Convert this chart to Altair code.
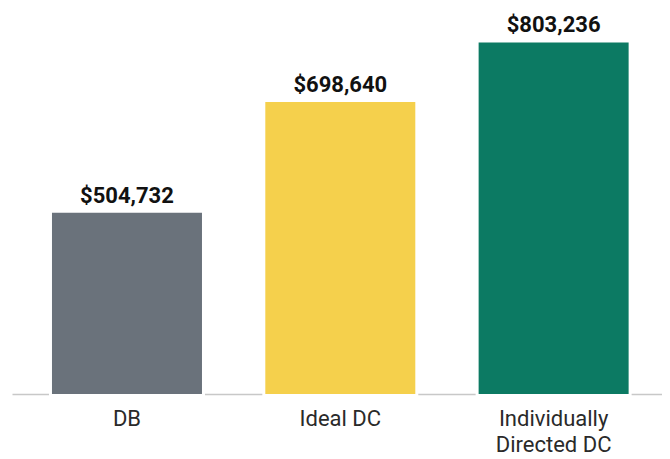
import altair as alt
import pandas as pd

categories = ["DB", "Ideal DC", "Individually|Directed DC"]
values = [504732, 698640, 803236]
colors = ["#6a727b", "#f5d04c", "#0c7a63"]

df = pd.DataFrame({"cat": categories, "value": values, "color": colors})

H = 384
W = 650
ydom = [187000, 860000]

x = alt.X(
    "cat:N",
    sort=categories,
    scale=alt.Scale(paddingInner=0.297, paddingOuter=0.172, align=0.545),
    axis=alt.Axis(
        title=None,
        labelAngle=0,
        ticks=False,
        domainColor="#c8c8c8",
        domainWidth=1.5,
        labelFont="Roboto",
        labelFontSize=22,
        labelColor="#2a2a2a",
        labelPadding=14,
        labelLineHeight=26,
        labelExpr="split(datum.label, '|')",
    ),
)
y = alt.Y("value:Q", scale=alt.Scale(domain=ydom, zero=False), axis=None)

base = alt.Chart(df)

white = base.mark_bar(color="white", size=156, y2Offset=3).encode(
    x=x, y=y, y2=alt.datum(ydom[0])
)
bars = base.mark_bar(size=150).encode(
    x=x,
    y=y,
    y2=alt.datum(ydom[0]),
    color=alt.Color("color:N", scale=None),
)
labels = base.mark_text(
    font="Roboto", fontSize=22, fontWeight="bold", color="#111111",
    baseline="alphabetic", dy=-10,
).encode(x=x, y=y, text=alt.Text("value:Q", format="$,.0f"))

chart = (
    alt.layer(white, bars, labels)
    .properties(
        width=W,
        height=H,
        padding={"left": 4, "top": 2, "right": 0, "bottom": 0},
    )
    .configure_view(strokeWidth=0)
)

chart.save("out.html", embed_options={"renderer": "svg", "actions": False})
